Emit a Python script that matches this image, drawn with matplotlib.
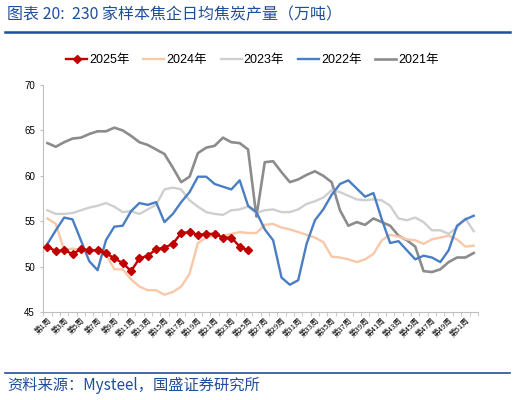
import matplotlib.pyplot as plt

plt.rcParams["font.family"] = ["Liberation Sans", "Noto Sans CJK SC"]

# 周次
weeks = [f"第{i}周" for i in range(1, 53)]

y2025 = [52.2, 51.7, 51.8, 51.4, 51.9, 51.8, 51.8, 51.5, 50.9, 50.4, 49.5, 50.9,
         51.2, 51.9, 52.1, 52.5, 53.7, 53.8, 53.5, 53.6, 53.6, 53.2, 53.2, 52.2, 51.8]

y2024 = [55.3, 54.7, 51.8, 52.0, 51.8, 51.8, 51.8, 51.4, 49.7, 49.7, 48.6, 47.8,
         47.4, 47.4, 46.9, 47.2, 47.8, 49.2, 52.6, 53.2, 53.4, 53.4, 53.6, 53.8,
         53.7, 53.7, 54.6, 54.7, 54.3, 54.1, 53.8, 53.5, 53.2, 52.7, 51.1, 51.0,
         50.8, 50.5, 50.8, 51.4, 52.9, 53.5, 53.3, 53.0, 52.9, 52.5, 53.0, 53.2,
         53.4, 53.0, 52.2, 52.3]

y2023 = [56.2, 55.8, 55.8, 55.9, 56.2, 56.5, 56.7, 57.0, 56.6, 56.0, 56.1, 55.8,
         56.3, 56.8, 58.5, 58.7, 58.5, 57.3, 56.6, 56.0, 55.8, 55.7, 56.2, 56.3,
         56.6, 55.9, 56.2, 56.3, 56.0, 56.0, 56.3, 56.9, 57.2, 57.6, 58.4, 58.2,
         57.8, 57.4, 57.3, 57.4, 57.3, 56.7, 55.3, 55.1, 55.4, 54.9, 54.0, 54.0,
         53.6, 54.3, 55.3, 53.9]

y2022 = [52.5, 54.0, 55.4, 55.2, 52.9, 50.6, 49.6, 52.9, 54.4, 54.5, 56.1, 57.0,
         56.8, 57.1, 54.9, 55.8, 57.1, 58.2, 59.9, 59.9, 59.1, 58.8, 58.5, 59.5,
         56.7, 56.0, 54.1, 52.9, 48.8, 48.0, 48.5, 52.5, 55.1, 56.3, 57.9, 59.1,
         59.5, 58.6, 57.7, 58.1, 55.2, 52.6, 52.8, 51.8, 50.8, 51.2, 51.0, 50.5,
         51.8, 54.5, 55.2, 55.6]

y2021 = [63.6, 63.2, 63.7, 64.1, 64.2, 64.6, 64.9, 64.9, 65.3, 65.0, 64.4, 63.7,
         63.4, 62.9, 62.4, 60.9, 59.3, 59.9, 62.5, 63.1, 63.3, 64.2, 63.7, 63.6,
         62.9, 55.5, 61.5, 61.6, 60.4, 59.3, 59.6, 60.1, 60.5, 60.0, 59.3, 56.2,
         54.5, 54.9, 54.6, 55.3, 54.9, 54.5, 53.4, 52.9, 52.2, 49.5, 49.4, 49.7,
         50.5, 51.0, 51.0, 51.5]

fig = plt.figure(figsize=(5.15, 4.0), dpi=100)
ax = fig.add_axes([0.084, 0.22, 0.844, 0.5675])

x = list(range(len(weeks)))
ax.plot(x, y2021, color="#8c8c8c", lw=1.9, label="2021年", zorder=2)
ax.plot(x, y2022, color="#4a7ec4", lw=1.7, label="2022年", zorder=3)
ax.plot(x, y2023, color="#cfcfcf", lw=1.7, label="2023年", zorder=2)
ax.plot(x, y2024, color="#f8c8a8", lw=1.7, label="2024年", zorder=2)
ax.plot(x[:len(y2025)], y2025, color="#c00000", lw=1.7, marker="D", ms=4,
        label="2025年", zorder=4)

ax.set_xlim(-0.5, len(weeks) - 0.5)
ax.set_ylim(45, 70)
ax.set_yticks(range(45, 71, 5))
ax.tick_params(axis="y", labelsize=7, length=2, color="#bfbfbf", pad=4)

ax.set_xticks([i - 0.5 for i in range(len(weeks) + 1)], minor=True)
ax.set_xticks(x[::2])
ax.set_xticklabels(weeks[::2], rotation=45, ha="right", rotation_mode="anchor",
                   fontsize=5.5, family=["Noto Sans CJK SC"])
ax.tick_params(axis="x", which="major", length=0, pad=3)
ax.tick_params(axis="x", which="minor", length=3, color="#bfbfbf")

for s in ["top", "right"]:
    ax.spines[s].set_visible(False)
ax.spines["left"].set_color("#bfbfbf")
ax.spines["bottom"].set_color("#bfbfbf")

# 图例顺序与原图一致
h, l = ax.get_legend_handles_labels()
order = [4, 3, 2, 1, 0]
fig.legend([h[i] for i in order], [l[i] for i in order], loc="center",
           bbox_to_anchor=(0.49, 0.85), ncol=5, frameon=False, fontsize=9,
           handlelength=1.7, handletextpad=0.15, columnspacing=1.1)

blue = "#1f4e9a"
fig.text(0.014, 0.962, "图表 20:  230 家样本焦企日均焦炭产量（万吨）", fontsize=11.5,
         color=blue, style="italic", va="center", family=["Noto Sans CJK SC"])
fig.add_artist(plt.Line2D([0.01, 0.99], [0.92, 0.92], color=blue, lw=1.8))
fig.add_artist(plt.Line2D([0.01, 0.99], [0.068, 0.068], color=blue, lw=1.2))
fig.text(0.014, 0.037, "资料来源：Mysteel，国盛证券研究所", fontsize=11,
         color=blue, style="italic", va="center", family=["Noto Sans CJK SC"])

fig.savefig("out.png", dpi=100)
